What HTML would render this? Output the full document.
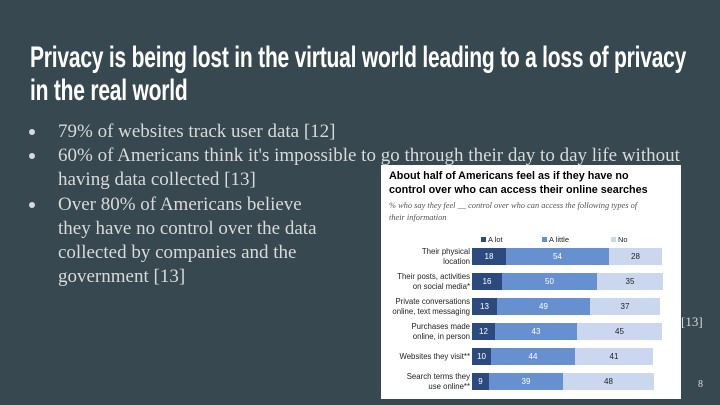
<!DOCTYPE html>
<html><head><meta charset="utf-8"><style>
*{margin:0;padding:0;box-sizing:border-box}
body{width:720px;height:405px;background:#374850;position:relative;overflow:hidden;font-family:"Liberation Sans",sans-serif}
.t{position:absolute;left:30px;color:#fff;font-size:30px;line-height:32px;white-space:nowrap;transform-origin:0 0;transform:scaleX(0.70);font-weight:bold;letter-spacing:-0.3px}
.b{position:absolute;left:58px;color:#d9d9d9;font-family:"Liberation Serif",serif;font-size:19px;white-space:nowrap;line-height:24px}
.d{position:absolute;left:29px;width:6px;height:6px;border-radius:50%;background:#d9d9d9}
.img{position:absolute;left:381px;top:165px;width:300px;height:234px;background:#fff}
.ct{position:absolute;left:8px;top:4px;font-weight:bold;font-size:10.8px;line-height:14px;color:#000;white-space:nowrap}
.cs{position:absolute;left:8px;top:35px;font-family:"Liberation Serif",serif;font-style:italic;font-size:8.4px;line-height:12px;color:#555;white-space:nowrap}
.lg{position:absolute;top:70px;font-size:7.5px;color:#222}
.lg i{display:inline-block;width:5px;height:5px;margin-right:2px}
.row{position:absolute;left:91px;height:17px;display:flex}
.row div{height:17px;font-size:8px;line-height:17px;text-align:center}
.a{background:#2d4a7e;color:#fff}.m{background:#6690d0;color:#fff}.l{background:#cbd7ef;color:#222}
.lab{position:absolute;right:211px;font-size:7.8px;line-height:10px;text-align:right;color:#222;white-space:nowrap}
</style></head><body>
<div class="t" style="top:42px">Privacy is being lost in the virtual world leading to a loss of privacy</div>
<div class="t" style="top:75px">in the real world</div>
<div class="d" style="top:129px"></div><div class="b" style="top:120px">79% of websites track user data [12]</div>
<div class="d" style="top:153px"></div><div class="b" style="top:144px">60% of Americans think it's impossible to go through their day to day life without</div>
<div class="b" style="top:168px">having data collected [13]</div>
<div class="d" style="top:202px"></div><div class="b" style="top:193px">Over 80% of Americans believe</div>
<div class="b" style="top:217px">they have no control over the data</div>
<div class="b" style="top:241px">collected by companies and the</div>
<div class="b" style="top:265px">government [13]</div>
<div class="b" style="left:681px;top:310px;font-size:13px">[13]</div>
<div class="b" style="left:698px;top:373px;font-size:10px;color:#ddd">8</div>
<div class="img">
<div class="ct">About half of Americans feel as if they have no<br>control over who can access their online searches</div>
<div class="cs">% who say they feel __ control over who can access the following types of<br>their information</div>
<div class="lg" style="left:100px"><i style="background:#2d4a7e"></i>A lot</div>
<div class="lg" style="left:161px"><i style="background:#6690d0"></i>A little</div>
<div class="lg" style="left:230px"><i style="background:#cbd7ef"></i>No</div>
<div class="lab" style="top:82px">Their physical<br>location</div>
<div class="row" style="top:83px"><div class="a" style="width:34px">18</div><div class="m" style="width:103px">54</div><div class="l" style="width:53px">28</div></div>
<div class="lab" style="top:107px">Their posts, activities<br>on social media*</div>
<div class="row" style="top:108px"><div class="a" style="width:30px">16</div><div class="m" style="width:95px">50</div><div class="l" style="width:66px">35</div></div>
<div class="lab" style="top:132px">Private conversations<br>online, text messaging</div>
<div class="row" style="top:133px"><div class="a" style="width:25px">13</div><div class="m" style="width:93px">49</div><div class="l" style="width:70px">37</div></div>
<div class="lab" style="top:157px">Purchases made<br>online, in person</div>
<div class="row" style="top:158px"><div class="a" style="width:23px">12</div><div class="m" style="width:82px">43</div><div class="l" style="width:85px">45</div></div>
<div class="lab" style="top:187px">Websites they visit**</div>
<div class="row" style="top:183px"><div class="a" style="width:19px">10</div><div class="m" style="width:84px">44</div><div class="l" style="width:78px">41</div></div>
<div class="lab" style="top:207px">Search terms they<br>use online**</div>
<div class="row" style="top:208px"><div class="a" style="width:17px">9</div><div class="m" style="width:74px">39</div><div class="l" style="width:91px">48</div></div>
</div>
</body></html>
